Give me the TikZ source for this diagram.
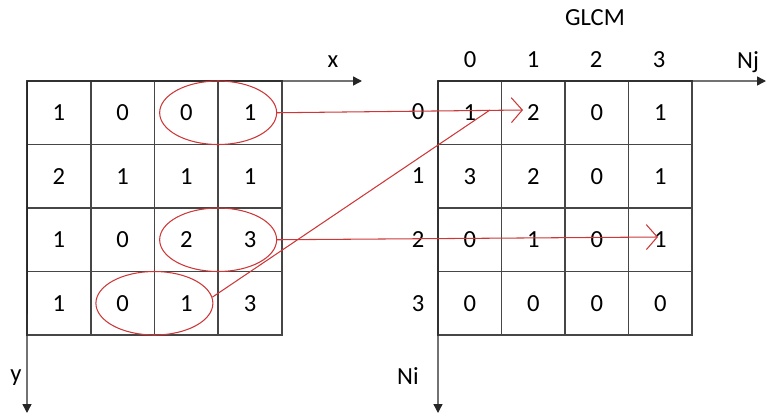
\documentclass[tikz,border=0pt]{standalone}
\usepackage{fontspec}
\setmainfont{Carlito}
\usetikzlibrary{arrows.meta,shapes.geometric}
\definecolor{gridc}{RGB}{70,70,70}
\definecolor{ovalc}{RGB}{205,55,55}
\begin{document}
\begin{tikzpicture}[x=0.02cm,y=-0.02cm,
  cell/.style={draw=gridc, line width=0.8pt, minimum width=1.27cm, minimum height=1.27cm, inner sep=0pt, outer sep=0pt, font=\fontsize{14}{16}\selectfont},
  lbl/.style={font=\fontsize{14}{16}\selectfont, inner sep=0pt},
  oval/.style={draw=ovalc, ellipse, line width=0.6pt, minimum width=2.34cm, minimum height=1.27cm, inner sep=0pt},
  axis/.style={draw=black!85, line width=0.8pt, -{Triangle[length=0.18cm,width=0.18cm]}},
  redline/.style={draw=ovalc, line width=0.6pt},
  redarrow/.style={redline, -{Straight Barb[length=0.22cm,width=0.5cm]}}
]
\useasboundingbox (0,0) rectangle (767,416);

% left image matrix
\foreach \r/\row in {0/{1,0,0,1},1/{2,1,1,1},2/{1,0,2,3},3/{1,0,1,3}}{
  \foreach \v [count=\c from 0] in \row {
    \node[cell] (L\r\c) at ({58.9+63.75*\c},{112.75+63.5*\r}) {\v};
  }
}
% GLCM matrix
\foreach \r/\row in {0/{1,2,0,1},1/{3,2,0,1},2/{0,1,0,1},3/{0,0,0,0}}{
  \foreach \v [count=\c from 0] in \row {
    \node[cell] (G\r\c) at ({469.75+63.5*\c},{112.75+63.5*\r}) {\v};
  }
}

% labels
\node[lbl] (glcm) at (595,18) {GLCM};
\foreach \c in {0,1,2,3}{
  \node[lbl] (cl\c) at ({470+63*\c},60) {\c};
  \node[lbl] (rl\c) at (418,{112+63.7*\c}) {\c};
}
\node[lbl] (xl) at (333,62) {x};
\node[lbl] (yl) at (16,378) {y};
\node[lbl] (njl) at (748,62) {Nj};
\node[lbl] (nil) at (408,376) {Ni};

% axes
\coordinate (xend) at (362,81);
\coordinate (yend) at (27,413);
\coordinate (njend) at (766,81);
\coordinate (niend) at (438,413);
\draw[axis] (L00.north west) -- (xend);
\draw[axis] (L00.north west) -- (yend);
\draw[axis] (G00.north west) -- (njend);
\draw[axis] (G00.north west) -- (niend);

% ovals
\node[oval] (e1) at (L02.east) {};
\node[oval] (e2) at (L22.east) {};
\node[oval] (e3) at (L31.east) {};

% red connectors
\coordinate (t1) at (523,110);
\coordinate (j1) at (490,110);
\coordinate (t3) at (658,237);
\draw[redarrow] (e1.east) -- (t1);
\draw[redline] (e3.6) -- (j1);
\draw[redarrow] (e2.east) -- (t3);
\end{tikzpicture}
\end{document}
